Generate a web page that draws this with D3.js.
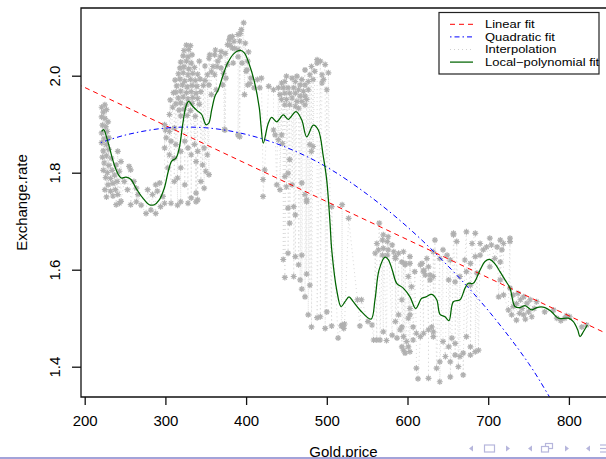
<!DOCTYPE html>
<html>
<head>
<meta charset="utf-8">
<script src="https://cdn.jsdelivr.net/npm/d3@7"></script>
<style>
  body { margin: 0; background: #fff; }
  svg { display: block; }
  text { font-family: "Liberation Sans", Arial, Helvetica, sans-serif; fill: #000; }
</style>
</head>
<body>
<svg id="chart" width="606" height="459"></svg>
<script>
const observations = [
  [221,1.935],[225,1.94],[223,1.925],[227,1.93],[221,1.915],[225,1.912],[229,1.905],[222,1.898],[226,1.895],[221,1.882],
  [228,1.885],[224,1.87],[230,1.872],[221,1.862],[227,1.858],[223,1.845],[230,1.848],[222,1.832],[227,1.835],[233,1.83],
  [224,1.82],[230,1.815],[223,1.805],[228,1.8],[234,1.805],[226,1.79],[232,1.788],[237,1.795],[229,1.775],[235,1.778],
  [240,1.782],[225,1.765],[232,1.762],[238,1.765],[227,1.75],[235,1.752],
  [241,1.844],[245,1.823],[239,1.816],[243,1.803],[255,1.813],[257,1.806],[249,1.782],[261,1.782],[253,1.765],[264,1.768],
  [266,1.755],[241,1.755],[239,1.734],[245,1.741],[257,1.734],
  [278,1.765],[284,1.755],[290,1.762],[297,1.751],[264,1.74],[270,1.733],[276,1.716],[282,1.723],[288,1.716],[294,1.73],
  [299,1.737],[243,1.737],[307,1.737],[315,1.733],[319,1.74],[328,1.737],[338,1.74],[288,1.775],[293,1.779],
  [299,1.899],[305,1.885],[311,1.892],[301,1.872],[307,1.865],[313,1.858],[299,1.851],[305,1.837],[311,1.83],[319,1.844],
  [324,1.865],[328,1.851],[336,1.858],[332,1.837],[340,1.844],[348,1.851],[338,1.823],[346,1.816],[352,1.837],[350,1.803],
  [354,1.796],[344,1.782],[348,1.768],[338,1.758],[319,1.81],[315,1.789],[324,1.775],[332,1.748],[340,1.744],[311,1.782],
  [303,1.81],[300,1.888],[306,1.95],[309,1.935],[305,1.92],[310,1.965],
  [326,2.063],[331,2.062],[323,2.052],[329,2.054],[322,2.041],[328,2.039],[333,2.043],[319,2.028],[326,2.03],[332,2.026],
  [318,2.016],[323,2.018],[329,2.014],[336,2.017],[316,2.004],[322,2.006],[328,2.002],[334,2.005],[340,2.003],[312,1.991],
  [318,1.993],[324,1.989],[331,1.992],[337,1.99],[343,1.993],[349,1.99],[314,1.979],[321,1.981],[327,1.977],[333,1.98],
  [339,1.978],[347,1.98],[313,1.966],[319,1.968],[326,1.965],[332,1.967],[338,1.964],[344,1.967],[316,1.954],[322,1.956],
  [328,1.952],[334,1.955],[340,1.953],[313,1.942],[319,1.944],[326,1.94],[333,1.943],[342,1.941],[317,1.929],[323,1.931],
  [331,1.928],[319,1.917],[327,1.918],[337,1.916],[342,2.03],[349,2.02],
  [397,2.109],[394,2.095],[390,2.085],[383,2.081],[379,2.074],[385,2.071],[392,2.071],[377,2.064],[383,2.057],[390,2.054],
  [369,2.05],[361,2.043],[354,2.036],[365,2.03],[359,2.019],[369,2.016],[377,2.023],[352,2.002],[361,2.002],[354,1.981],
  [363,1.971],[357,1.961],[402,2.03],[406,1.995],[410,1.975],[414,1.992],[400,2.009],[402,1.981],[398,1.961],[371,1.981],
  [375,1.995],[355,2.043],[362,2.053],[368,2.039],[374,2.046],[380,2.08],[393,2.087],[380,2.063],[386,2.056],[390,2.039],
  [399,2.067],[403,2.049],[364,2.019],[372,2.005],[357,2.008],[384,2.026],[395,2.026],[401,2.012],[405,1.984],
  [373,1.889],[390,1.878],[374,1.888],[392,1.874],[419,1.995],[417,1.975],
  [488,2.033],[492,2.03],[498,2.023],[481,2.019],[485,2.009],[473,2.012],[479,2.002],[494,2.002],[502,2.006],[496,1.992],
  [450,1.999],[457,1.995],[463,1.999],[469,1.992],[448,1.988],[444,1.985],[461,1.988],[467,1.981],[473,1.981],[477,1.988],
  [483,1.992],[428,1.978],[434,1.971],[440,1.975],[446,1.975],[452,1.975],[459,1.975],[465,1.971],[471,1.968],[477,1.971],
  [442,1.961],[448,1.964],[454,1.964],[461,1.964],[467,1.958],[473,1.958],[444,1.951],[450,1.951],[457,1.954],[463,1.947],
  [469,1.947],[475,1.951],[448,1.94],[454,1.94],[461,1.937],[465,1.933],[494,1.985],[500,1.971],[473,1.94],[488,2.026],
  [436,1.878],[444,1.878],[454,1.827],[483,1.854],[481,1.844],[421,1.786],[438,1.775],[442,1.765],[452,1.799],[457,1.775],
  [469,1.779],[473,1.755],[421,1.751],[475,1.744],[519,1.734],[479,1.858],[434,1.888],[440,1.868],[445,1.86],[450,1.771],
  [459,1.73],[448,1.792],[423,1.806],
  [452,1.727],[461,1.713],[454,1.696],[452,1.634],[446,1.621],[461,1.627],[469,1.63],[465,1.61],[475,1.591],[459,1.586],
  [448,1.584],[467,1.579],[469,1.56],[473,1.544],[479,1.568],[477,1.507],[488,1.501],[492,1.503],[481,1.482],[500,1.513],
  [498,1.479],[506,1.484],[519,1.486],[521,1.479],[518,1.484],[522,1.488],[514,1.459],[475,1.74],[527,1.706],[506,1.73],
  [541,1.484],[543,1.538],[538,1.538],[551,1.493],[556,1.486],[558,1.455],[562,1.455],[566,1.455],[570,1.472],[574,1.454],
  [581,1.465],[587,1.459],[591,1.476],[593,1.482],[595,1.462],[599,1.452],[601,1.441],[603,1.507],[607,1.482],[611,1.469],
  [616,1.462],[620,1.469],[626,1.476],[630,1.482],[632,1.462],[611,1.397],[613,1.375],[626,1.376],[595,1.434],[597,1.428],
  [603,1.431],[607,1.455],[593,1.441],
  [565,1.696],[562,1.654],[569,1.661],[575,1.658],[581,1.651],[564,1.641],[570,1.644],[576,1.641],[583,1.637],[569,1.63],
  [575,1.63],[585,1.627],[560,1.634],[589,1.634],[593,1.616],[576,1.668],[570,1.672],
  [597,1.61],[603,1.613],[616,1.61],[620,1.599],[626,1.606],[622,1.589],[628,1.579],[632,1.586],[601,1.586],[605,1.565],
  [593,1.538],[603,1.52],[589,1.507],[601,1.5],[585,1.493],
  [657,1.672],[673,1.678],[684,1.675],[661,1.658],[680,1.654],[690,1.654],[644,1.641],[649,1.63],[640,1.623],[632,1.637],
  [624,1.623],[618,1.613],[620,1.596],[628,1.589],[609,1.596],[603,1.627],[595,1.637],[597,1.613],[585,1.623],[671,1.62],
  [678,1.613],[684,1.627],[690,1.63],[694,1.641],[698,1.647],[704,1.651],[711,1.647],[715,1.661],[719,1.654],[727,1.658],
  [708,1.623],[715,1.616],[702,1.606],[686,1.593],[673,1.596],[665,1.586],[659,1.575],[651,1.579],[678,1.568],[715,1.579],
  [713,1.544],[719,1.548],[657,1.675],[634,1.661],[702,1.665],[727,1.665],[717,1.641],[653,1.62],
  [731,1.548],[737,1.551],[744,1.544],[740,1.538],[731,1.524],[729,1.507],[735,1.496],[744,1.507],[750,1.513],[754,1.503],
  [748,1.531],[752,1.538],[760,1.534],[770,1.513],[781,1.517],[785,1.5],[725,1.517],[727,1.562],[822,1.486],[816,1.482],
  [801,1.503],[795,1.5],[790,1.495],[797,1.505],[735,1.53],[742,1.52],[746,1.498],[757,1.52],[739,1.51],
  [632,1.472],[644,1.452],[651,1.441],[659,1.448],[647,1.421],[640,1.41],[653,1.41],[659,1.424],[665,1.421],[669,1.428],
  [678,1.424],[684,1.431],[688,1.434],[663,1.4],[653,1.379],[669,1.383],[640,1.369],[636,1.397],[655,1.459],[678,1.441],
  [673,1.462]
];

// fitted curves
const linearFit = [[150, 2.015], [900, 1.4265]];
const quadraticFit = [
  [220,1.862],[250,1.8775],[300,1.892],[350,1.8926],[400,1.879],[450,1.852],[500,1.8115],
  [550,1.7556],[600,1.688],[650,1.608],[700,1.516],[750,1.407],[780,1.327],[800,1.276],[822,1.216]
];
const localPolyFit = [
  [221.1,1.885],[223.5,1.889],[228.5,1.865],[236.7,1.816],[242.9,1.793],[245.8,1.789],[251.2,1.791],[257.4,1.786],
  [263.6,1.768],[271.9,1.748],[280,1.734],[286.2,1.734],[292.4,1.744],[298.6,1.768],[303.6,1.803],[307.8,1.824],
  [313.1,1.83],[317.2,1.851],[321.4,1.899],[325.5,1.937],[328.9,1.947],[333.8,1.937],[340,1.927],[345,1.92],
  [350.3,1.899],[353.7,1.902],[357.4,1.93],[361.5,1.958],[365.6,1.971],[371,1.999],[377.2,2.026],[384.6,2.045],
  [392.8,2.052],[397.8,2.047],[404,2.023],[410.2,1.988],[416.4,1.933],[418.5,1.896],[421.3,1.861],[427.5,1.902],
  [431.7,1.914],[437.9,1.905],[446.1,1.919],[452.3,1.91],[461.8,1.926],[468.9,1.909],[475.1,1.874],[483.3,1.898],
  [489.5,1.888],[495.7,1.833],[499.9,1.785],[504,1.696],[506.1,1.641],[512.3,1.558],[517.6,1.524],[522.6,1.534],
  [527.5,1.544],[532.8,1.534],[541.1,1.517],[554.8,1.498],[559.7,1.538],[564.7,1.599],[572.1,1.626],[576.2,1.621],
  [581.2,1.599],[586.6,1.572],[594.8,1.562],[603.1,1.544],[610.2,1.52],[617.6,1.541],[622.9,1.544],[630,1.549],
  [636.2,1.538],[640.3,1.508],[646.5,1.503],[651.4,1.495],[656.8,1.534],[665.1,1.538],[671.3,1.562],[675.3,1.572],
  [681.5,1.572],[689.8,1.599],[696,1.617],[702.2,1.621],[708.4,1.612],[714.6,1.596],[720.8,1.579],[727,1.562],
  [733.2,1.524],[739.4,1.522],[745.6,1.526],[753.9,1.517],[760.1,1.522],[770.4,1.522],[778.7,1.513],[786.9,1.5],
  [799.3,1.5],[805.5,1.493],[810.9,1.476],[813.8,1.462],[817.9,1.472],[822.8,1.486]
];

const xTicks = [200, 300, 400, 500, 600, 700, 800];
const yTicks = [1.4, 1.6, 1.8, 2.0];
const legendItems = ["Linear fit", "Quadratic fit", "Interpolation", "Local\u2212polynomial fit"];

// plot box (right edge falls on the border of the slide crop)
const box = { left: 81, top: 8, right: 606, bottom: 397 };

const svg = d3.select("#chart");
const x = d3.scaleLinear().domain([200, 800]).range([84.7, 568.9]);
const y = d3.scaleLinear().domain([1.4, 2.0]).range([366.7, 75.7]);

svg.append("defs").append("clipPath").attr("id", "plotClip")
  .append("rect")
  .attr("x", box.left).attr("y", box.top)
  .attr("width", box.right - box.left).attr("height", box.bottom - box.top);

const plot = svg.append("g").attr("clip-path", "url(#plotClip)");
const line = d3.line().x(d => x(d[0])).y(d => y(d[1]));

// interpolation: points joined in order of gold price
const sorted = observations.slice().sort((a, b) => a[0] - b[0]);
plot.append("path")
  .attr("d", line(sorted))
  .attr("fill", "none")
  .attr("stroke", "#dadada")
  .attr("stroke-width", 1)
  .attr("stroke-dasharray", "1,3");

// asterisks
const r = 3, a = 2.1;
const star = `M${-r},0h${2*r}M0,${-r}v${2*r}M${-a},${-a}l${2*a},${2*a}M${-a},${a}l${2*a},${-2*a}`;
plot.append("g").selectAll("path")
  .data(observations)
  .join("path")
  .attr("transform", d => `translate(${x(d[0])},${y(d[1])})`)
  .attr("d", star)
  .attr("fill", "none")
  .attr("stroke", "#b0b0b0")
  .attr("stroke-width", 1.2);

plot.append("path")
  .attr("d", line(linearFit))
  .attr("fill", "none").attr("stroke", "#ff0000")
  .attr("stroke-width", 1).attr("stroke-dasharray", "5,4");

plot.append("path")
  .attr("d", line.curve(d3.curveCatmullRom)(quadraticFit))
  .attr("fill", "none").attr("stroke", "#0000ff")
  .attr("stroke-width", 1).attr("stroke-dasharray", "1.5,3,5,3");

plot.append("path")
  .attr("d", line.curve(d3.curveCatmullRom)(localPolyFit))
  .attr("fill", "none").attr("stroke", "#006400")
  .attr("stroke-width", 1.25);

// box
svg.append("path")
  .attr("d", `M${box.right},${box.top}H${box.left}V${box.bottom}H${box.right}`)
  .attr("fill", "none").attr("stroke", "#111").attr("stroke-width", 1.3);

// axes
const xAxis = svg.append("g")
  .attr("transform", `translate(0,${box.bottom})`)
  .call(d3.axisBottom(x).tickValues(xTicks).tickSize(8).tickFormat(d3.format("d")));
xAxis.select(".domain").remove();
xAxis.selectAll("line").attr("stroke", "#111").attr("stroke-width", 1.3);
xAxis.selectAll("text")
  .attr("y", 29).attr("dy", 0)
  .style("font-size", "15px")
  .style("font-family", '"Liberation Sans", Arial, sans-serif')
  .attr("fill", "#000");

const yAxis = svg.append("g")
  .attr("transform", `translate(${box.left},0)`)
  .call(d3.axisLeft(y).tickValues(yTicks).tickSize(9).tickFormat(d3.format(".1f")));
yAxis.select(".domain").remove();
yAxis.selectAll("line").attr("stroke", "#111").attr("stroke-width", 1.3);
yAxis.selectAll("text")
  .attr("transform", "rotate(-90)")
  .attr("x", 0).attr("y", -21).attr("dy", 0)
  .attr("text-anchor", "middle")
  .style("font-size", "15px")
  .style("font-family", '"Liberation Sans", Arial, sans-serif')
  .attr("fill", "#000");

svg.append("text")
  .attr("transform", "translate(27,202.5) rotate(-90)")
  .attr("text-anchor", "middle")
  .style("font-size", "15px")
  .text("Exchange.rate");

svg.append("text")
  .attr("x", (box.left + box.right) / 2).attr("y", 457)
  .attr("text-anchor", "middle")
  .style("font-size", "15px")
  .text("Gold.price");

// legend (text is a little wider than tall in the slide, so stretch it)
const lg = svg.append("g");
const rowY = [24.3, 36.9, 49.5, 62.1];
const rowStyle = [
  { stroke: "#ff0000", dash: "5,4", w: 1 },
  { stroke: "#0000ff", dash: "1.5,3,5,3", w: 1 },
  { stroke: "#d0d0d0", dash: "1,3", w: 1 },
  { stroke: "#006400", dash: null, w: 1.25 }
];
lg.append("rect")
  .attr("x", 439).attr("y", 12.5).attr("width", 160).attr("height", 61.5)
  .attr("fill", "#fff");
legendItems.forEach((label, i) => {
  lg.append("line")
    .attr("x1", 450).attr("x2", 473).attr("y1", rowY[i]).attr("y2", rowY[i])
    .attr("stroke", rowStyle[i].stroke).attr("stroke-width", rowStyle[i].w)
    .attr("stroke-dasharray", rowStyle[i].dash);
  lg.append("text")
    .attr("transform", `translate(485,${rowY[i] + 3.9}) scale(1.18,1)`)
    .style("font-size", "11px")
    .text(label);
});
lg.append("rect")
  .attr("x", 439).attr("y", 12.5).attr("width", 160).attr("height", 61.5)
  .attr("fill", "none").attr("stroke", "#222").attr("stroke-width", 1.2);

// beamer navigation symbols and footer rule
const nav = svg.append("g").attr("fill", "#b6b6dc").attr("stroke", "#b6b6dc");
const leftTri = [473, 532, 590], rightTri = [506, 565];
leftTri.forEach(px => nav.append("path").attr("d", `M${px},445.5L${px - 4},448.5L${px},451.5Z`).attr("stroke", "none"));
rightTri.forEach(px => nav.append("path").attr("d", `M${px},445.5L${px + 4},448.5L${px},451.5Z`).attr("stroke", "none"));
nav.append("rect").attr("x", 484.5).attr("y", 445).attr("width", 10).attr("height", 7).attr("fill", "none").attr("stroke-width", 1.2);
nav.append("rect").attr("x", 545.5).attr("y", 443.5).attr("width", 7).attr("height", 5).attr("fill", "none").attr("stroke-width", 1.2);
nav.append("rect").attr("x", 541.5).attr("y", 446.5).attr("width", 7).attr("height", 5.5).attr("fill", "#fff").attr("stroke-width", 1.2);
[445, 448.5, 452].forEach(py => nav.append("line").attr("x1", 600).attr("x2", 606).attr("y1", py).attr("y2", py).attr("stroke-width", 1.2));
svg.append("rect").attr("x", 0).attr("y", 457).attr("width", 606).attr("height", 2).attr("fill", "#a3a3d9");
</script>
</body>
</html>
